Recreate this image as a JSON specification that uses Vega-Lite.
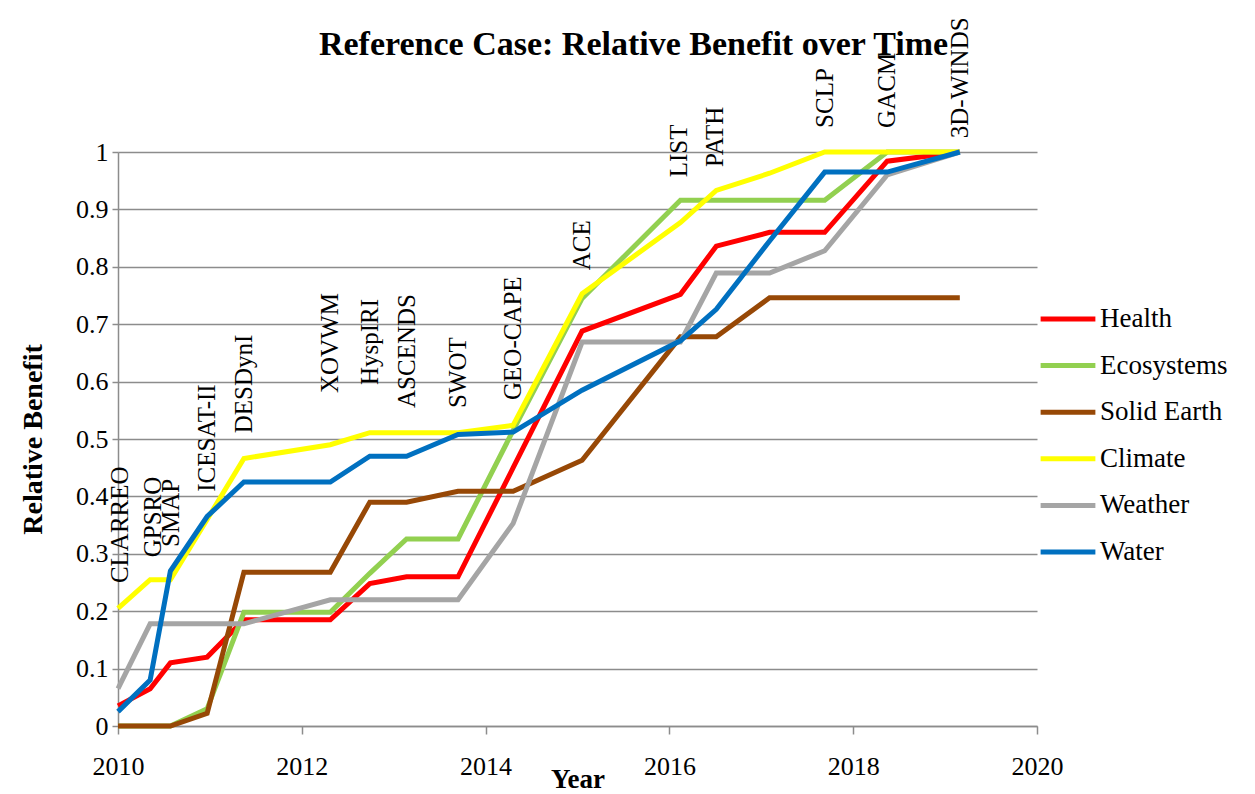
{
  "$schema": "https://vega.github.io/schema/vega-lite/v6.json",
  "width": 919,
  "height": 574,
  "autosize": {"type": "none"},
  "padding": {"left": 118, "top": 152, "right": 218, "bottom": 68},
  "background": "white",
  "title": {
    "text": "Reference Case: Relative Benefit over Time",
    "font": "Liberation Serif",
    "fontSize": 34,
    "fontWeight": "bold",
    "color": "black",
    "anchor": "middle",
    "frame": "group",
    "dx": 56,
    "offset": 0,
    "dy": 72,
    "baseline": "alphabetic"
  },
  "config": {
    "view": {"stroke": null},
    "axis": {
      "labelFont": "Liberation Serif",
      "labelFontSize": 26,
      "labelColor": "black",
      "titleFont": "Liberation Serif",
      "titleFontSize": 28,
      "titleFontWeight": "bold",
      "titleColor": "black",
      "domainColor": "#8c8c8c",
      "domainWidth": 1.5,
      "tickColor": "#8c8c8c",
      "tickWidth": 1.5,
      "gridColor": "#8c8c8c",
      "gridWidth": 1.5
    }
  },
  "datasets": {
    "series": [
      {"series": "Health", "year": 2010.0, "value": 0.035},
      {"series": "Health", "year": 2010.35, "value": 0.065},
      {"series": "Health", "year": 2010.57, "value": 0.11},
      {"series": "Health", "year": 2010.97, "value": 0.12},
      {"series": "Health", "year": 2011.37, "value": 0.185},
      {"series": "Health", "year": 2012.31, "value": 0.185},
      {"series": "Health", "year": 2012.74, "value": 0.248},
      {"series": "Health", "year": 2013.14, "value": 0.26},
      {"series": "Health", "year": 2013.7, "value": 0.26},
      {"series": "Health", "year": 2014.3, "value": 0.45},
      {"series": "Health", "year": 2015.05, "value": 0.688},
      {"series": "Health", "year": 2016.12, "value": 0.752},
      {"series": "Health", "year": 2016.51, "value": 0.836},
      {"series": "Health", "year": 2017.09, "value": 0.86},
      {"series": "Health", "year": 2017.69, "value": 0.86},
      {"series": "Health", "year": 2018.37, "value": 0.984},
      {"series": "Health", "year": 2019.16, "value": 1.0},
      {"series": "Ecosystems", "year": 2010.0, "value": 0},
      {"series": "Ecosystems", "year": 2010.35, "value": 0},
      {"series": "Ecosystems", "year": 2010.57, "value": 0},
      {"series": "Ecosystems", "year": 2010.97, "value": 0.03},
      {"series": "Ecosystems", "year": 2011.37, "value": 0.198},
      {"series": "Ecosystems", "year": 2012.31, "value": 0.198},
      {"series": "Ecosystems", "year": 2012.74, "value": 0.266},
      {"series": "Ecosystems", "year": 2013.14, "value": 0.326},
      {"series": "Ecosystems", "year": 2013.7, "value": 0.326},
      {"series": "Ecosystems", "year": 2014.3, "value": 0.515},
      {"series": "Ecosystems", "year": 2015.05, "value": 0.745},
      {"series": "Ecosystems", "year": 2016.12, "value": 0.916},
      {"series": "Ecosystems", "year": 2016.51, "value": 0.916},
      {"series": "Ecosystems", "year": 2017.09, "value": 0.916},
      {"series": "Ecosystems", "year": 2017.69, "value": 0.916},
      {"series": "Ecosystems", "year": 2018.37, "value": 1.0},
      {"series": "Ecosystems", "year": 2019.16, "value": 1.0},
      {"series": "Solid Earth", "year": 2010.0, "value": 0},
      {"series": "Solid Earth", "year": 2010.35, "value": 0},
      {"series": "Solid Earth", "year": 2010.57, "value": 0},
      {"series": "Solid Earth", "year": 2010.97, "value": 0.022},
      {"series": "Solid Earth", "year": 2011.37, "value": 0.268},
      {"series": "Solid Earth", "year": 2012.31, "value": 0.268},
      {"series": "Solid Earth", "year": 2012.74, "value": 0.39},
      {"series": "Solid Earth", "year": 2013.14, "value": 0.39},
      {"series": "Solid Earth", "year": 2013.7, "value": 0.409},
      {"series": "Solid Earth", "year": 2014.3, "value": 0.409},
      {"series": "Solid Earth", "year": 2015.05, "value": 0.463},
      {"series": "Solid Earth", "year": 2016.12, "value": 0.678},
      {"series": "Solid Earth", "year": 2016.51, "value": 0.678},
      {"series": "Solid Earth", "year": 2017.09, "value": 0.746},
      {"series": "Solid Earth", "year": 2017.69, "value": 0.746},
      {"series": "Solid Earth", "year": 2018.37, "value": 0.746},
      {"series": "Solid Earth", "year": 2019.16, "value": 0.746},
      {"series": "Climate", "year": 2010.0, "value": 0.205},
      {"series": "Climate", "year": 2010.35, "value": 0.255},
      {"series": "Climate", "year": 2010.57, "value": 0.255},
      {"series": "Climate", "year": 2010.97, "value": 0.36},
      {"series": "Climate", "year": 2011.37, "value": 0.466},
      {"series": "Climate", "year": 2012.31, "value": 0.49},
      {"series": "Climate", "year": 2012.74, "value": 0.511},
      {"series": "Climate", "year": 2013.14, "value": 0.511},
      {"series": "Climate", "year": 2013.7, "value": 0.511},
      {"series": "Climate", "year": 2014.3, "value": 0.524},
      {"series": "Climate", "year": 2015.05, "value": 0.753},
      {"series": "Climate", "year": 2016.12, "value": 0.877},
      {"series": "Climate", "year": 2016.51, "value": 0.933},
      {"series": "Climate", "year": 2017.09, "value": 0.963},
      {"series": "Climate", "year": 2017.69, "value": 1.0},
      {"series": "Climate", "year": 2018.37, "value": 1.0},
      {"series": "Climate", "year": 2019.16, "value": 1.0},
      {"series": "Weather", "year": 2010.0, "value": 0.065},
      {"series": "Weather", "year": 2010.35, "value": 0.178},
      {"series": "Weather", "year": 2010.57, "value": 0.178},
      {"series": "Weather", "year": 2010.97, "value": 0.178},
      {"series": "Weather", "year": 2011.37, "value": 0.178},
      {"series": "Weather", "year": 2012.31, "value": 0.22},
      {"series": "Weather", "year": 2012.74, "value": 0.22},
      {"series": "Weather", "year": 2013.14, "value": 0.22},
      {"series": "Weather", "year": 2013.7, "value": 0.22},
      {"series": "Weather", "year": 2014.3, "value": 0.353},
      {"series": "Weather", "year": 2015.05, "value": 0.669},
      {"series": "Weather", "year": 2016.12, "value": 0.669},
      {"series": "Weather", "year": 2016.51, "value": 0.789},
      {"series": "Weather", "year": 2017.09, "value": 0.789},
      {"series": "Weather", "year": 2017.69, "value": 0.828},
      {"series": "Weather", "year": 2018.37, "value": 0.96},
      {"series": "Weather", "year": 2019.16, "value": 1.0},
      {"series": "Water", "year": 2010.0, "value": 0.025},
      {"series": "Water", "year": 2010.35, "value": 0.08},
      {"series": "Water", "year": 2010.57, "value": 0.27},
      {"series": "Water", "year": 2010.97, "value": 0.365},
      {"series": "Water", "year": 2011.37, "value": 0.425},
      {"series": "Water", "year": 2012.31, "value": 0.425},
      {"series": "Water", "year": 2012.74, "value": 0.47},
      {"series": "Water", "year": 2013.14, "value": 0.47},
      {"series": "Water", "year": 2013.7, "value": 0.508},
      {"series": "Water", "year": 2014.3, "value": 0.512},
      {"series": "Water", "year": 2015.05, "value": 0.585},
      {"series": "Water", "year": 2016.12, "value": 0.671},
      {"series": "Water", "year": 2016.51, "value": 0.726},
      {"series": "Water", "year": 2017.09, "value": 0.845},
      {"series": "Water", "year": 2017.69, "value": 0.965},
      {"series": "Water", "year": 2018.37, "value": 0.965},
      {"series": "Water", "year": 2019.16, "value": 1.0}
    ],
    "missions": [
      {"mission": "CLARREO", "year": 2010.02, "value": 0.249},
      {"mission": "GPSRO", "year": 2010.38, "value": 0.294},
      {"mission": "SMAP", "year": 2010.58, "value": 0.312},
      {"mission": "ICESAT-II", "year": 2010.97, "value": 0.408},
      {"mission": "DESDynI", "year": 2011.37, "value": 0.51},
      {"mission": "XOVWM", "year": 2012.31, "value": 0.58},
      {"mission": "HyspIRI", "year": 2012.74, "value": 0.594},
      {"mission": "ASCENDS", "year": 2013.14, "value": 0.554},
      {"mission": "SWOT", "year": 2013.7, "value": 0.554},
      {"mission": "GEO-CAPE", "year": 2014.3, "value": 0.568},
      {"mission": "ACE", "year": 2015.05, "value": 0.794},
      {"mission": "LIST", "year": 2016.1, "value": 0.956},
      {"mission": "PATH", "year": 2016.5, "value": 0.974},
      {"mission": "SCLP", "year": 2017.69, "value": 1.042},
      {"mission": "GACM", "year": 2018.37, "value": 1.042},
      {"mission": "3D-WINDS", "year": 2019.16, "value": 1.024}
    ]
  },
  "layer": [
    {
      "data": {"name": "series"},
      "mark": {"type": "line", "strokeWidth": 5, "clip": false},
      "encoding": {
        "x": {
          "field": "year",
          "type": "quantitative",
          "scale": {"domain": [2010, 2020], "nice": false},
          "axis": {
            "title": "Year",
            "values": [2010, 2012, 2014, 2016, 2018, 2020],
            "format": "d",
            "grid": false,
            "tickSize": 8,
            "labelPadding": 19,
            "labelFlush": false,
            "titleY": 40,
            "titleFontSize": 27,
            "titleBaseline": "top"
          }
        },
        "y": {
          "field": "value",
          "type": "quantitative",
          "scale": {"domain": [0, 1], "nice": false},
          "axis": {
            "title": "Relative Benefit",
            "values": [0, 0.1, 0.2, 0.3, 0.4, 0.5, 0.6, 0.7, 0.8, 0.9, 1],
            "format": ".1~f",
            "tickSize": 6,
            "labelPadding": 4,
            "labelFlush": false,
            "titleX": -85,
            "titleBaseline": "middle"
          }
        },
        "color": {
          "field": "series",
          "type": "nominal",
          "scale": {
            "domain": ["Health", "Ecosystems", "Solid Earth", "Climate", "Weather", "Water"],
            "range": ["#FF0000", "#92D050", "#974806", "#FFFF00", "#A5A5A5", "#0070C0"]
          },
          "legend": {
            "title": null,
            "orient": "none",
            "legendX": 920,
            "legendY": 137,
            "symbolType": "stroke",
            "symbolStrokeWidth": 5,
            "symbolSize": 3000,
            "labelFont": "Liberation Serif",
            "labelFontSize": 27,
            "labelColor": "black",
            "labelLimit": 300,
            "labelOffset": 2,
            "rowPadding": 3.6
          }
        }
      }
    },
    {
      "data": {"name": "missions"},
      "mark": {
        "type": "text",
        "angle": 270,
        "align": "left",
        "baseline": "middle",
        "font": "Liberation Serif",
        "fontSize": 25,
        "color": "black",
        "clip": false
      },
      "encoding": {
        "x": {"field": "year", "type": "quantitative"},
        "y": {"field": "value", "type": "quantitative"},
        "text": {"field": "mission"}
      }
    }
  ]
}
